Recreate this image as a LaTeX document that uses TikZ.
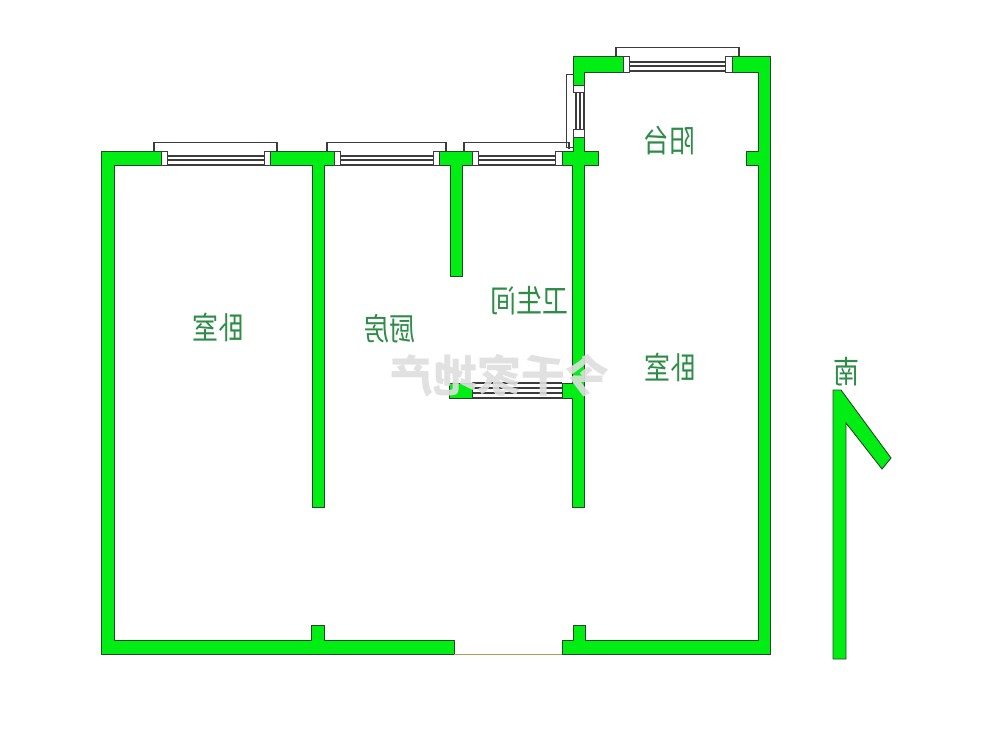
\documentclass[tikz,border=0pt]{standalone}
\usepackage{fontspec}
\newfontfamily\cjk{Noto Sans CJK SC}
\definecolor{wallgreen}{RGB}{0,238,20}
\definecolor{wallline}{RGB}{40,70,40}
\definecolor{winline}{RGB}{60,60,60}
\definecolor{labelgreen}{RGB}{45,140,70}
\definecolor{doorline}{RGB}{170,160,90}
\definecolor{wmgrey}{RGB}{222,222,222}
\tikzset{
  wall/.style={fill=wallgreen,draw=wallline,line width=0.9pt,line join=miter},
  winl/.style={draw=winline,line width=1.3pt},
  frame/.style={fill=white,draw=winline,line width=0.9pt},
  roomlabel/.style={text=labelgreen,font=\cjk\fontsize{26}{26}\selectfont,inner sep=0pt},
}
\newcommand{\mirror}[1]{\scalebox{-1}[1.2]{#1}}
\begin{document}
\begin{tikzpicture}[x=1pt,y=-1pt]
\useasboundingbox (0,0) rectangle (1000,750);
\fill[white] (0,0) rectangle (1000,750);
% window projections
\draw[winl] (154,151) -- (154,142.4) -- (277,142.4) -- (277,151);
\draw[winl] (327,151) -- (327,142.4) -- (446,142.4) -- (446,151);
\draw[winl] (464,151) -- (464,142.4) -- (569,142.4) -- (569,149);
\draw[winl] (616,56) -- (616,47.4) -- (739,47.4) -- (739,56);
\draw[winl] (573,74.4) -- (566.4,74.4) -- (566.4,147.4) -- (573,147.4);
% window sashes
\foreach \xa/\xb in {167/264,340/433,478/555}{
  \draw[winl] (\xa,156) -- (\xb,156);
  \draw[winl] (\xa,160) -- (\xb,160);
  \draw[winl] (\xa,165) -- (\xb,165);
}
\draw[winl] (629,62) -- (725,62);
\draw[winl] (629,66) -- (725,66);
\draw[winl] (629,71) -- (725,71);
\draw[winl] (576,92) -- (576,129);
\draw[winl] (580,92) -- (580,129);
\draw[winl] (584,92) -- (584,129);
% bathroom window
\foreach \yy in {383,388,393,398}{\draw[winl] (472,\yy) -- (562,\yy);}
% walls
\draw[wall] (161,151) -- (101,151) -- (101,654) -- (454,654) -- (454,640) -- (324,640) -- (324,625) -- (311,625) -- (311,640) -- (114,640) -- (114,165) -- (161,165) -- cycle;
\draw[wall] (270,151) -- (334,151) -- (334,165) -- (324,165) -- (324,507) -- (312,507) -- (312,165) -- (270,165) -- cycle;
\draw[wall] (439,151) -- (472,151) -- (472,165) -- (462,165) -- (462,276) -- (450,276) -- (450,165) -- (439,165) -- cycle;
\draw[wall] (562,151) -- (573,151) -- (573,137) -- (584,137) -- (584,151) -- (598,151) -- (598,165) -- (584,165) -- (584,507) -- (572,507) -- (572,398) -- (562,398) -- (562,383) -- (572,383) -- (572,165) -- (562,165) -- cycle;
\draw[wall] (449,383) -- (472,383) -- (472,398) -- (449,398) -- cycle;
\draw[wall] (623,56) -- (573,56) -- (573,85) -- (584,85) -- (584,72) -- (623,72) -- cycle;
\draw[wall] (732,56) -- (770,56) -- (770,654) -- (562,654) -- (562,640) -- (573,640) -- (573,625) -- (585,625) -- (585,640) -- (758,640) -- (758,165) -- (746,165) -- (746,151) -- (758,151) -- (758,72) -- (732,72) -- cycle;
% window frames
\foreach \xa/\xb in {161/167,264/270,334/340,433/439,472/478,555/562}{
  \draw[frame] (\xa,151) rectangle (\xb,165);
}
\draw[frame] (623,56) rectangle (629,72);
\draw[frame] (725,56) rectangle (732,72);
\draw[frame] (573,85) rectangle (584,92);
\draw[frame] (573,129) rectangle (584,137);
% door threshold
\draw[draw=doorline,line width=1pt] (454,654.5) -- (562,654.5);
% north arrow
\draw[wall] (833,390) -- (841,390) -- (891,458) -- (882,469) -- (846,423) -- (846,659) -- (833,659) -- cycle;
% labels
\node[roomlabel] (bedroomw) at (218,327) {\mirror{卧室}};
\node[roomlabel] (kitchen) at (389,329) {\mirror{厨房}};
\node[roomlabel] (bath) at (529,301) {\mirror{卫生间}};
\node[roomlabel] (balcony) at (669,141) {\mirror{阳台}};
\node[roomlabel] (bedroome) at (670,367) {\mirror{卧室}};
\node[roomlabel] (south) at (846,372) {\mirror{南}};
% watermark
\node[text=wmgrey,text opacity=0.9,font=\cjk\bfseries\fontsize{44}{44}\selectfont,inner sep=0pt] (mark) at (499,376) {\reflectbox{今千家地产}};
\end{tikzpicture}
\end{document}
